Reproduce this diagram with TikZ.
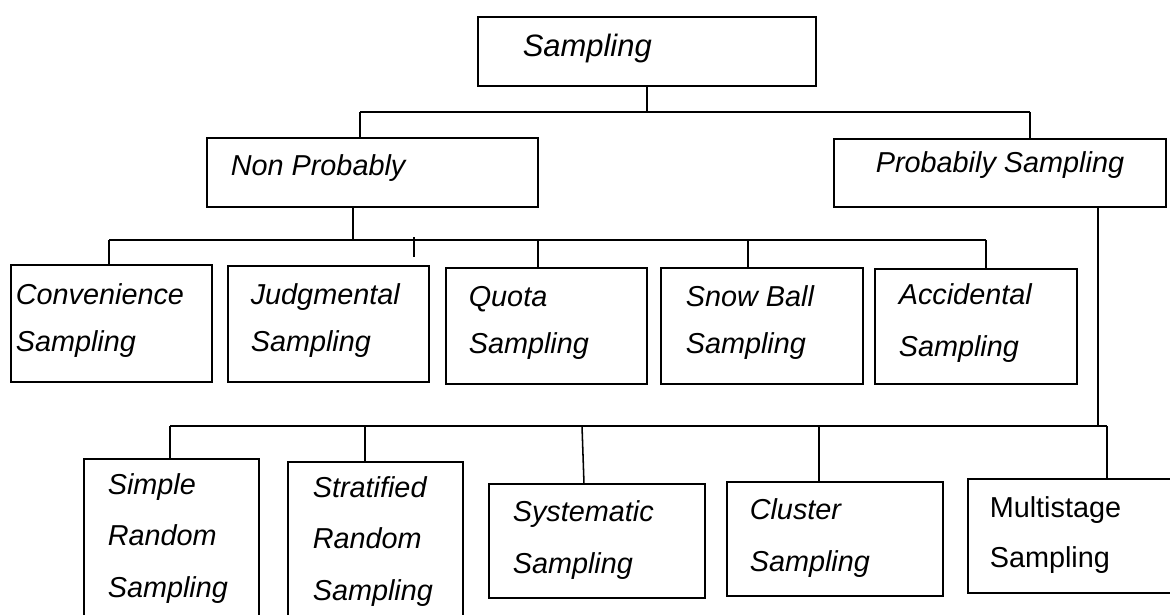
\documentclass[tikz,border=0pt]{standalone}
\usepackage{fontspec}
\setmainfont{Liberation Sans}
\usetikzlibrary{positioning,calc}

\begin{document}
\begin{tikzpicture}[x=0.025cm, y=-0.025cm, line width=1.1pt]
\tikzstyle{box} = [draw, rectangle, outer sep=0pt, inner sep=0pt]
% labels sit on the baseline of their last line
\tikzstyle{lbl} = [anchor=base west, inner sep=0pt, align=left, font=\fontsize{20.5pt}{34pt}\selectfont\itshape]
\tikzstyle{lbltall} = [lbl, font=\fontsize{20.5pt}{36.3pt}\selectfont\itshape]

\clip (0,0) rectangle (1170,615);

% top level
\node[box, minimum width=8.45cm, minimum height=1.725cm] (samp) at (647,51.5) {};
\node[lbl, font=\fontsize{22pt}{26pt}\selectfont\itshape] (samp-t) at (522,57) {Sampling};

\node[box, minimum width=8.275cm, minimum height=1.725cm] (nonp) at (372.5,172.5) {};
\node[lbl] (nonp-t) at (230,176) {Non Probably};
\node[box, minimum width=8.3cm, minimum height=1.7cm] (prob) at (1000,173) {};
\node[lbl] (prob-t) at (875,173) {Probabily Sampling};

% non probability methods
\node[box, minimum width=5.025cm, minimum height=2.925cm] (conv) at (111.5,323.5) {};
\node[lbl] (conv-t) at (15,352) {Convenience\\Sampling};
\node[box, minimum width=5.025cm, minimum height=2.9cm] (judg) at (328.5,324) {};
\node[lbl] (judg-t) at (250,352) {Judgmental\\Sampling};
\node[box, minimum width=5.025cm, minimum height=2.9cm] (quota) at (546.5,326) {};
\node[lbl] (quota-t) at (468,354) {Quota\\Sampling};
\node[box, minimum width=5.05cm, minimum height=2.9cm] (snow) at (762,326) {};
\node[lbl] (snow-t) at (685,354) {Snow Ball\\Sampling};
\node[box, minimum width=5.05cm, minimum height=2.875cm] (acc) at (976,326.5) {};
\node[lbl, font=\fontsize{20.5pt}{37pt}\selectfont\itshape] (acc-t) at (898,357) {Accidental\\Sampling};

% probability methods
\node[box, minimum width=4.375cm, minimum height=4.525cm] (simple) at (171.5,549.5) {};
\node[lbltall] (simple-t) at (107,597) {Simple\\Random\\Sampling};
\node[box, minimum width=4.375cm, minimum height=4.45cm] (strat) at (375.5,551) {};
\node[lbltall] (strat-t) at (312,600) {Stratified\\Random\\Sampling};
\node[box, minimum width=5.4cm, minimum height=2.85cm] (syst) at (597,541) {};
\node[lbltall] (syst-t) at (512,573) {Systematic\\Sampling};
\node[box, minimum width=5.4cm, minimum height=2.85cm] (clus) at (835,539) {};
\node[lbltall] (clus-t) at (749,571) {Cluster\\Sampling};
\node[box, minimum width=5.175cm, minimum height=2.85cm] (multi) at (1071.5,536) {};
\node[lbl, font=\fontsize{20.5pt}{35.5pt}\selectfont] (multi-t) at (989,567) {Multistage\\Sampling};

% first split
\coordinate (top-l) at (360,112);
\coordinate (top-r) at (1030,112);
\draw (samp.south) -- (samp.south |- top-l);
\draw (top-l) -- (top-r);
\draw (top-l) -- (top-l |- nonp.north);
\draw (top-r) -- (top-r |- prob.north);

% non probability branch
\coordinate (mid-l) at (109,240);
\coordinate (mid-r) at (986,240);
\coordinate (mid-n) at (353,240);
\coordinate (judg-tick) at (414,257);
\draw (mid-n |- nonp.south) -- (mid-n);
\draw (mid-l) -- (mid-r);
\draw (mid-l) -- (mid-l |- conv.north);
\draw (judg-tick) -- ++(0,-20);
\draw (538,240) -- (538,240 |- quota.north);
\draw (748,240) -- (748,240 |- snow.north);
\draw (mid-r) -- (mid-r |- acc.north);

% probability branch
\coordinate (low-l) at (170,426);
\coordinate (low-r) at (1107,426);
\coordinate (low-p) at (1098,426);
\draw (low-p |- prob.south) -- (low-p);
\draw (low-l) -- (low-r);
\draw (low-l) -- (low-l |- simple.north);
\draw (365,426) -- (365,426 |- strat.north);
\draw (582,426) -- (584,426 |- syst.north);
\draw (819,426) -- (819,426 |- clus.north);
\draw (low-r) -- (low-r |- multi.north);
\end{tikzpicture}
\end{document}
